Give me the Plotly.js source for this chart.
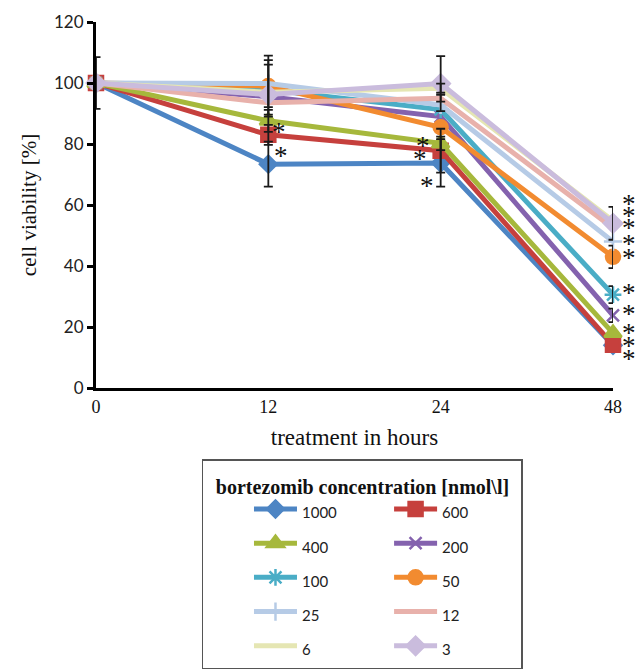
<!DOCTYPE html>
<html>
<head>
<meta charset="utf-8">
<script src="https://cdn.plot.ly/plotly-3.0.1.min.js"></script>
<style>html,body{margin:0;padding:0;background:#fff;}#chart{width:636px;height:670px;}</style>
</head>
<body>
<div id="chart"></div>
<script>
// ---- data ----
var hours = ['0', '12', '24', '48'];
var seriesNames = ['1000', '600', '400', '200', '100', '50', '25', '12', '6', '3'];

var v1000 = [100, 73.4, 73.8, 14.0];
var v600  = [100, 83.0, 77.8, 14.2];
var v400  = [100, 87.6, 80.2, 18.0];
var v200  = [100, 95.5, 89.0, 23.8];
var v100  = [100, 97.8, 91.3, 30.6];
var v50   = [100, 99.0, 85.5, 43.0];
var v25   = [100, 99.8, 92.8, 48.0];
var v12   = [100, 93.5, 95.0, 52.5];
var v6    = [100, 97.0, 98.3, 54.8];
var v3    = [100, 96.2, 99.8, 54.0];

// error bar half-lengths (null = none shown)
var e1000 = [8.5, 7.4, 7.8, null];
var e600  = [null, 3.3, 7.2, null];
var e400  = [null, 3.6, 2.2, null];
var e200  = [null, null, null, 2.2];
var e100  = [null, 8.2, null, 2.8];
var e50   = [null, 10.0, null, 3.7];
var e25   = [null, 7.7, null, null];
var e12   = [null, null, 1.1, null];
var e6    = [null, null, 1.5, null];
var e3    = [null, null, 9.0, 5.4];

// significance asterisks (category index, value)
var starX = [1, 1, 2, 2, 2, 3, 3, 3, 3, 3, 3, 3, 3, 3, 3];
var starY = [85.9, 78.0, 81.3, 77.0, 68.2, 62.3, 58.4, 54.4, 49.2, 44.6, 33.1, 26.2, 20.0, 15.7, 11.5];
var starShift = [11, 13, -18, -21, -14, 16, 16, 16, 16, 16, 16, 16, 16, 16, 16];

// ---- styles ----
var values = [v1000, v600, v400, v200, v100, v50, v25, v12, v6, v3];
var errors = [e1000, e600, e400, e200, e100, e50, e25, e12, e6, e3];
var colors = ['#4D85C4', '#C6403D', '#A6B83C', '#8462AE', '#4AADC6', '#F28B30', '#B6CBE6', '#E8B1AB', '#E5E6B3', '#CABCDD'];
var symbols = ['diamond', 'square', 'triangle-up', 'x-thin-open', 'asterisk-open', 'circle', 'cross-thin-open', null, null, 'diamond'];
var sizes = [13, 14, 15, 12, 14, 14, 13, 0, 0, 14];
var groups = ['a', 'b', 'a', 'b', 'a', 'b', 'a', 'b', 'a', 'b'];

var traces = [];
for (var i = 0; i < seriesNames.length; i++) {
  var t = {
    type: 'scatter',
    x: hours,
    y: values[i],
    name: '<span style="font-size:15px">' + seriesNames[i] + '</span>',
    legendgroup: groups[i],
    mode: symbols[i] ? 'lines+markers' : 'lines',
    line: {color: colors[i], width: 5},
    cliponaxis: false,
    hoverinfo: 'skip'
  };
  if (symbols[i]) {
    t.marker = {symbol: symbols[i], size: sizes[i], color: colors[i],
                line: {color: colors[i], width: 2.5}};
  }
  traces.push(t);
}
// error bars drawn on top of all lines
for (var j = 0; j < seriesNames.length; j++) {
  traces.push({
    type: 'scatter',
    x: hours,
    y: values[j],
    mode: 'markers',
    marker: {size: 1, opacity: 0},
    showlegend: false,
    hoverinfo: 'skip',
    cliponaxis: false,
    error_y: {
      type: 'data', symmetric: true, visible: true,
      array: errors[j].map(function (v) { return v === null ? NaN : v; }),
      color: '#1a1a1a', thickness: 1.8, width: 4.5
    }
  });
}

var annotations = starX.map(function (xi, k) {
  return {
    x: xi, y: starY[k], xref: 'x', yref: 'y',
    text: '*', showarrow: false, xshift: starShift[k], yshift: -6,
    font: {family: 'Liberation Serif', size: 27, color: '#111'}
  };
});

var layout = {
  width: 636, height: 670,
  margin: {l: 96, r: 23, t: 22, b: 282, autoexpand: false},
  paper_bgcolor: '#fff', plot_bgcolor: '#fff',
  showlegend: true,
  xaxis: {
    type: 'category', range: [0, 3], autorange: false,
    showline: true, linewidth: 3, linecolor: '#000',
    ticks: '', showgrid: false, zeroline: false,
    tickfont: {family: 'Liberation Serif', size: 18, color: '#111'},
    title: {text: 'treatment in hours', standoff: 14,
            font: {family: 'Liberation Serif', size: 23, color: '#111'}}
  },
  yaxis: {
    range: [0, 120], autorange: false, dtick: 20,
    showline: true, linewidth: 3, linecolor: '#000',
    ticks: 'outside', ticklen: 6, tickwidth: 3, tickcolor: '#000',
    showgrid: false, zeroline: false,
    tickfont: {family: 'Lato', size: 17, color: '#222'},
    title: {text: 'cell viability [%]', standoff: 12,
            font: {family: 'Liberation Serif', size: 21, color: '#111'}}
  },
  legend: {
    orientation: 'h', x: 0.205, xanchor: 'left', y: -0.195, yanchor: 'top',
    traceorder: 'grouped', tracegroupgap: 60,
    bgcolor: '#fff', bordercolor: '#555', borderwidth: 1.5,
    indentation: 47, itemwidth: 43,
    font: {family: 'Lato', size: 24, color: '#222'},
    title: {text: '<span style="font-size:20px;baseline-shift:-7px">&nbsp;&nbsp;<b>bortezomib concentration [nmol\\l]</b>&nbsp;&nbsp;</span>', side: 'top center',
            font: {family: 'Liberation Serif', size: 20, color: '#111'}}
  },
  annotations: annotations
};

Plotly.newPlot('chart', traces, layout, {staticPlot: true, displayModeBar: false});
</script>
</body>
</html>
